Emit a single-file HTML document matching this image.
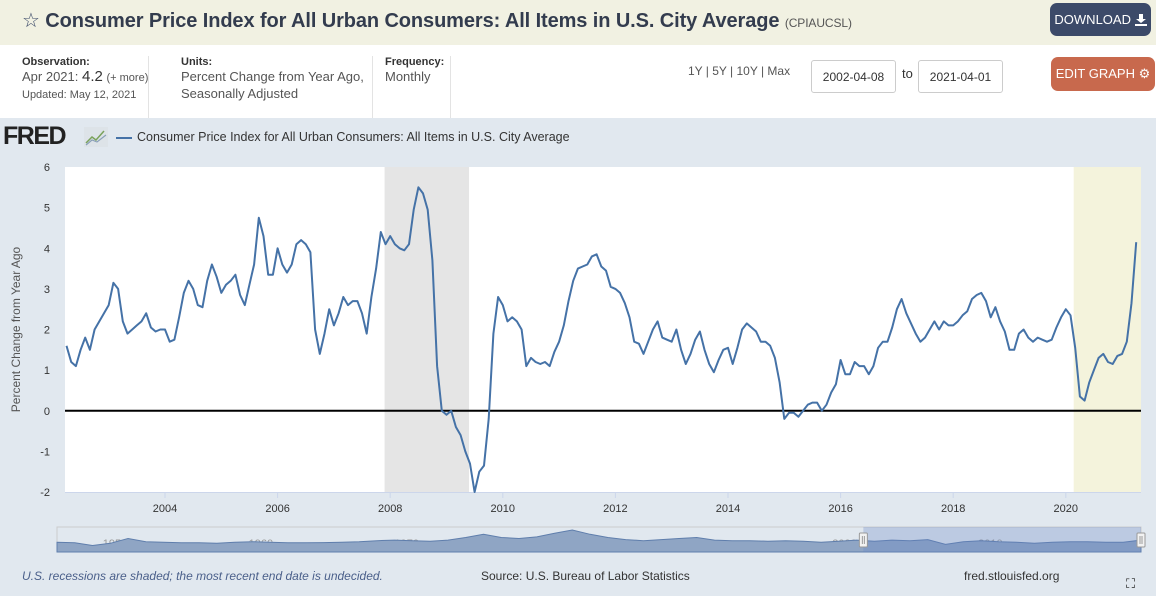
<!DOCTYPE html>
<html><head><meta charset="utf-8">
<style>
body{margin:0;width:1156px;height:596px;overflow:hidden;font-family:"Liberation Sans",sans-serif;background:#fff;position:relative}
.abs{position:absolute}
#hdr{left:0;top:0;width:1156px;height:45px;background:#f1f1e2}
#title{left:22px;top:8px;font-size:20px;font-weight:bold;color:#333c4e;white-space:nowrap;letter-spacing:-0.1px}
#title small{font-size:12px;font-weight:normal;color:#555}
.btn{color:#fff;border-radius:7px;font-size:13px;display:flex;align-items:center;justify-content:center}
.lbl{font-size:11px;font-weight:bold;color:#333}
.val{font-size:13px;color:#555;line-height:17px}
.inp{border:1px solid #ccc;border-radius:3px;font-size:12px;color:#333;display:flex;align-items:center;justify-content:center;background:#fff}
#chartbg{left:0;top:118px;width:1156px;height:478px;background:#e1e8ef}
</style></head><body>
<div class="abs" id="hdr"></div>
<div class="abs" id="title"><span style="font-weight:normal;color:#3c4a69">☆</span> Consumer Price Index for All Urban Consumers: All Items in U.S. City Average <small>(CPIAUCSL)</small></div>
<div class="abs btn" style="left:1050px;top:3px;width:101px;height:33px;background:#3c4a69">DOWNLOAD&nbsp;<svg width="12" height="12"><path d="M4 0h4v5h3l-5 4-5-4h3z M0 10h12v2H0z" fill="#fff"/></svg></div>

<div class="abs" style="left:22px;top:56px">
<div class="lbl">Observation:</div>
<div class="val">Apr 2021: <span style="font-size:15px;color:#333">4.2</span> <span style="font-size:11px">(+ more)</span></div>
<div class="val" style="font-size:11px">Updated: May 12, 2021</div></div>
<div class="abs" style="left:148px;top:56px;width:1px;height:62px;background:#e3e3e3"></div>
<div class="abs" style="left:181px;top:56px">
<div class="lbl">Units:</div>
<div class="val">Percent Change from Year Ago,<br>Seasonally Adjusted</div></div>
<div class="abs" style="left:372px;top:56px;width:1px;height:62px;background:#e3e3e3"></div>
<div class="abs" style="left:385px;top:56px">
<div class="lbl">Frequency:</div>
<div class="val">Monthly</div></div>
<div class="abs" style="left:450px;top:56px;width:1px;height:62px;background:#e3e3e3"></div>
<div class="abs" style="left:688px;top:64px;font-size:12px;color:#555">1Y | 5Y | 10Y | Max</div>
<div class="abs inp" style="left:811px;top:60px;width:83px;height:31px">2002-04-08</div>
<div class="abs" style="left:902px;top:66px;font-size:13px;color:#333">to</div>
<div class="abs inp" style="left:918px;top:60px;width:83px;height:31px">2021-04-01</div>
<div class="abs btn" style="left:1051px;top:57px;width:104px;height:34px;background:#c8694d">EDIT GRAPH ⚙</div>

<div class="abs" id="chartbg"></div>
<div class="abs" style="left:3px;top:122px;font-size:25px;font-weight:900;color:#222;letter-spacing:-1.5px">FRED</div>
<svg class="abs" style="left:84px;top:127px" width="24" height="20"><rect width="24" height="20" fill="#dde3e8"/><polyline points="2,16 8,10 12,13 20,4" fill="none" stroke="#7aa25b" stroke-width="1.5"/><polyline points="2,18 8,13 13,15 22,8" fill="none" stroke="#8aa0b8" stroke-width="1.2"/></svg>
<div class="abs" style="left:116px;top:137px;width:16px;height:2px;background:#4572a7"></div>
<div class="abs" style="left:137px;top:130px;font-size:12.5px;color:#333">Consumer Price Index for All Urban Consumers: All Items in U.S. City Average</div>

<svg class="abs" id="chart" style="left:0;top:0" width="1156" height="596"></svg>

<div class="abs" style="left:22px;top:569px;font-size:12px;font-style:italic;color:#4a5f8a">U.S. recessions are shaded; the most recent end date is undecided.</div>
<div class="abs" style="left:481px;top:569px;font-size:12px;color:#333">Source: U.S. Bureau of Labor Statistics</div>
<div class="abs" style="left:964px;top:569px;font-size:12px;color:#333">fred.stlouisfed.org</div>
<div class="abs" style="left:1126px;top:576px;font-size:13px;color:#222">⛶</div>

<script>
const startYear = 2002, startMonth = 4;
const values = [1.6,1.2,1.1,1.5,1.8,1.5,2.0,2.2,2.4,
2.6,3.15,3.0,2.2,1.9,2.0,2.1,2.2,2.4,2.05,1.95,2.0,
2.0,1.7,1.75,2.3,2.9,3.2,3.0,2.6,2.55,3.2,3.6,3.3,
2.9,3.1,3.2,3.35,2.85,2.6,3.1,3.6,4.75,4.3,3.35,3.35,
4.0,3.6,3.4,3.6,4.1,4.2,4.1,3.9,2.0,1.4,1.9,2.5,
2.1,2.4,2.8,2.6,2.7,2.7,2.4,1.9,2.8,3.5,4.4,4.1,
4.3,4.1,4.0,3.95,4.1,4.95,5.5,5.35,4.95,3.7,1.1,0.0,
-0.1,0.0,-0.4,-0.6,-1.0,-1.3,-2.0,-1.5,-1.35,-0.2,1.9,2.8,
2.6,2.2,2.3,2.2,2.0,1.1,1.3,1.2,1.15,1.2,1.1,1.45,
1.7,2.1,2.7,3.2,3.5,3.55,3.6,3.8,3.85,3.55,3.45,3.05,
3.0,2.9,2.65,2.3,1.7,1.65,1.4,1.7,2.0,2.2,1.8,1.75,
1.7,2.0,1.5,1.15,1.4,1.75,1.95,1.5,1.15,0.95,1.25,1.5,
1.55,1.15,1.55,2.0,2.15,2.05,1.95,1.7,1.7,1.6,1.3,0.7,
-0.2,-0.05,-0.05,-0.15,0.0,0.15,0.2,0.2,0.0,0.15,0.45,0.65,
1.25,0.9,0.9,1.2,1.1,1.1,0.9,1.1,1.55,1.7,1.7,2.05,
2.5,2.75,2.4,2.15,1.9,1.7,1.8,2.0,2.2,2.0,2.2,2.1,
2.1,2.2,2.35,2.45,2.75,2.85,2.9,2.7,2.3,2.55,2.2,1.95,
1.5,1.5,1.9,2.0,1.8,1.7,1.8,1.75,1.7,1.75,2.05,2.3,
2.5,2.35,1.55,0.35,0.25,0.7,1.0,1.3,1.4,1.2,1.15,1.35,
1.4,1.7,2.65,4.15];
const yTicks = [-2,-1,0,1,2,3,4,5,6];
const xTickYears = [2004,2006,2008,2010,2012,2014,2016,2018,2020];
const recessions = [[2007.9,2009.4],[2020.14,2021.35]];
const navYears = [1950,1960,1970,1980,1990,2000,2010];
const navValues = [1.5,1.0,-1.5,0.5,5,2,1.5,1,1,0.5,1.5,2,1.5,1,1,1.2,1.5,2,3,3.5,3,2.5,3.5,6,9,6,5,6.5,10,13,9,6,4,3,4,5,6,3.5,3,3,2.5,3,2.5,1.5,2.5,3.5,2.5,3.5,3,4,-0.5,2,3,2,1.5,0.5,1.5,2,2,1.5,1.5,3.5];
const navStart = 1947, navEnd = 2021.3;

const svg = document.getElementById('chart');
const NS = 'http://www.w3.org/2000/svg';
const X0=65, X1=1141, YT=167, YB=492;
const xs = t => 165 + (t-2004)*56.3;
const ys = v => YB - (v+2)*(YB-YT)/8;
function mk(tag, attrs, parent){const e=document.createElementNS(NS,tag);for(const k in attrs)e.setAttribute(k,attrs[k]);(parent||svg).appendChild(e);return e;}

const plot = mk('rect',{x:X0,y:YT,width:X1-X0,height:YB-YT,fill:'#fff'});



recessions.forEach((r,i)=>{
  const a=Math.max(xs(r[0]),X0), b=Math.min(xs(r[1]),X1);
  const e=mk('rect',{x:a,y:YT,width:b-a,height:YB-YT,fill:i==0?'#e5e5e5':'#f4f3dc'});
  
  
});

yTicks.forEach(v=>{
  const t=mk('text',{x:50,y:ys(v)+4,'text-anchor':'end','font-size':11,fill:'#333','font-family':'Liberation Sans'});
  t.textContent=v;
  
  
});
const yt=mk('text',{x:0,y:0,transform:'translate(20,'+((YT+YB)/2)+') rotate(-90)','text-anchor':'middle','font-size':12,fill:'#555','font-family':'Liberation Sans'});
yt.textContent='Percent Change from Year Ago';



mk('line',{x1:X0,x2:X1,y1:YB+0.5,y2:YB+0.5,stroke:'#ccd6eb'});
xTickYears.forEach(y=>{
  mk('line',{x1:xs(y),x2:xs(y),y1:YB,y2:YB+6,stroke:'#ccd6eb'});
  const t=mk('text',{x:xs(y),y:YB+20,'text-anchor':'middle','font-size':11,fill:'#333','font-family':'Liberation Sans'});
  t.textContent=y;
  
  
});

const zero=mk('line',{x1:X0,x2:X1,y1:ys(0),y2:ys(0),stroke:'#000','stroke-width':2});



const pts = values.map((v,i)=>xs(startYear+(startMonth-1+i)/12).toFixed(1)+','+ys(v).toFixed(1)).join(' ');
const line=mk('polyline',{points:pts,fill:'none',stroke:'#4572a7','stroke-width':2,'stroke-linejoin':'round'});



// navigator
const NX0=57, NX1=1141, NT=527, NB=552;
const nx = t => NX0 + (t-navStart)*(NX1-NX0)/(navEnd-navStart);
const ny = v => NB - 6 - (v+2)*(16/15);
mk('rect',{x:NX0,y:NT,width:NX1-NX0,height:NB-NT,fill:'none',stroke:'#cccccc'});
navYears.forEach(y=>{
  const t=mk('text',{x:nx(y)+2,y:NB-5,'font-size':11,fill:'#999','font-family':'Liberation Sans'});
  t.textContent=y;
});
let d='M'+NX0+','+NB;
navValues.forEach((v,i)=>{d+=' L'+nx(navStart+i*(navEnd-navStart)/(navValues.length-1)).toFixed(1)+','+ny(v).toFixed(1);});
d+=' L'+NX1+','+NB+' Z';
const area=mk('path',{d:d,fill:'#8fa5c4',stroke:'#5f7eac','stroke-width':1});


const sel=mk('rect',{x:nx(2002.27),y:NT,width:NX1-nx(2002.27),height:NB-NT,fill:'rgba(102,133,194,0.3)'});


[nx(2002.27),NX1].forEach(x=>{
  const h=mk('rect',{x:x-4,y:NT+6,width:8,height:14,fill:'#f2f2f2',stroke:'#999',rx:1});
  
  
  mk('line',{x1:x-1,x2:x-1,y1:NT+9,y2:NT+17,stroke:'#999'});
  mk('line',{x1:x+1,x2:x+1,y1:NT+9,y2:NT+17,stroke:'#999'});
});
</script>
</body></html>
